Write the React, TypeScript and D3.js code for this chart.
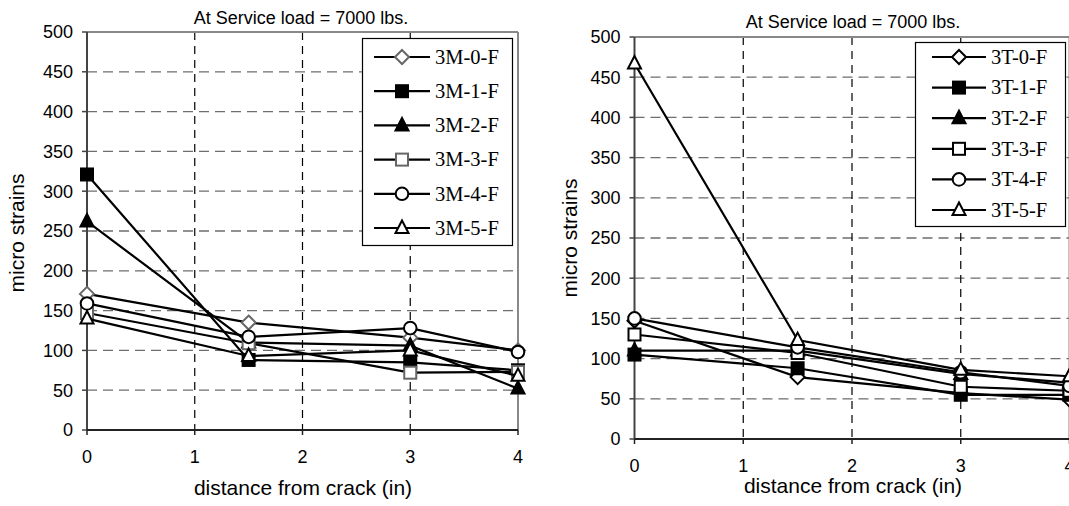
import React from "react";
import * as d3 from "d3";

// ---------- data ----------
const xValues = [0, 1.5, 3, 4];
const xTicks = [0, 1, 2, 3, 4];
const yTicks = [0, 50, 100, 150, 200, 250, 300, 350, 400, 450, 500];
const titleText = "At Service load = 7000 lbs.";
const xTitleText = "distance from crack (in)";
const yTitleText = "micro strains";

const namesM = ["3M-0-F", "3M-1-F", "3M-2-F", "3M-3-F", "3M-4-F", "3M-5-F"];
const m0 = [171, 135, 116, 100];
const m1 = [321, 88, 85, 75];
const m2 = [262, 110, 106, 52];
const m3 = [147, 109, 72, 73];
const m4 = [159, 117, 128, 98];
const m5 = [140, 93, 100, 68];

const namesT = ["3T-0-F", "3T-1-F", "3T-2-F", "3T-3-F", "3T-4-F", "3T-5-F"];
const t0 = [147, 77, 57, 49];
const t1 = [105, 88, 55, 55];
const t2 = [110, 110, 81, 70];
const t3 = [130, 107, 65, 60];
const t4 = [150, 114, 83, 66];
const t5 = [467, 123, 86, 78];

// marker kinds per series index
const markerKinds = ["diamond", "square", "triangle", "square", "circle", "triangle"];
const markerFilled = [false, true, true, false, false, false];

const SANS = "'Liberation Sans', Arial, sans-serif";
const SERIF = "'Liberation Serif', 'Times New Roman', serif";

type Layout = {
  x0: number; x1: number; y0: number; y1: number;
  titleX: number; titleY: number;
  xTitleX: number; xTitleY: number;
  yTitleX: number; yTitleY: number;
  legend: { x: number; y: number; w: number; h: number; firstY: number; step: number; lineX0: number; lineX1: number; markX: number; textX: number };
  markerStroke: string[];
};

function Marker({ kind, filled, cx, cy, stroke }: { kind: string; filled: boolean; cx: number; cy: number; stroke: string }) {
  const fill = filled ? "#000" : "#fff";
  const sw = 2;
  if (kind === "circle") return <circle cx={cx} cy={cy} r={6.3} fill={fill} stroke={stroke} strokeWidth={sw} />;
  if (kind === "square") return <rect x={cx - 6} y={cy - 6} width={12} height={12} fill={fill} stroke={stroke} strokeWidth={sw} />;
  if (kind === "diamond")
    return <path d={`M${cx},${cy - 7}L${cx + 7},${cy}L${cx},${cy + 7}L${cx - 7},${cy}Z`} fill={fill} stroke={stroke} strokeWidth={sw} />;
  return <path d={`M${cx},${cy - 7.5}L${cx + 6.5},${cy + 5}L${cx - 6.5},${cy + 5}Z`} fill={fill} stroke={stroke} strokeWidth={sw} strokeLinejoin="miter" />;
}

function Chart({ layout, names, series }: { layout: Layout; names: string[]; series: number[][] }) {
  const L = layout;
  const x = d3.scaleLinear().domain([0, 4]).range([L.x0, L.x1]);
  const y = d3.scaleLinear().domain([0, 500]).range([L.y0, L.y1]);
  const line = d3.line<number>().x((_, i) => x(xValues[i])).y((v) => y(v));
  const lg = L.legend;
  return (
    <g>
      {/* horizontal grid */}
      {yTicks.filter((t) => t > 0 && t < 500).map((t) => (
        <line key={"h" + t} x1={L.x0} x2={L.x1} y1={y(t)} y2={y(t)} stroke="#6e6e6e" strokeWidth={1.3} strokeDasharray="10,6" />
      ))}
      {/* vertical grid */}
      {xTicks.filter((t) => t > 0 && t < 4).map((t) => (
        <line key={"v" + t} x1={x(t)} x2={x(t)} y1={L.y1} y2={L.y0} stroke="#000" strokeWidth={1.2} strokeDasharray="8,6" />
      ))}
      {/* frame */}
      <line x1={L.x0} x2={L.x1} y1={L.y1} y2={L.y1} stroke="#888" strokeWidth={2} />
      <line x1={L.x1} x2={L.x1} y1={L.y1} y2={L.y0} stroke="#888" strokeWidth={2} />
      <line x1={L.x0} x2={L.x0} y1={L.y1} y2={L.y0} stroke="#444" strokeWidth={2} />
      <line x1={L.x0} x2={L.x1} y1={L.y0} y2={L.y0} stroke="#222" strokeWidth={2} />
      {/* ticks */}
      {yTicks.map((t) => (
        <g key={"yt" + t}>
          <line x1={L.x0 - 5} x2={L.x0} y1={y(t)} y2={y(t)} stroke="#444" strokeWidth={1.5} />
          <text x={L.x0 - 14} y={y(t)} dy="0.36em" textAnchor="end" fontFamily={SANS} fontSize={18} fill="#000">{t}</text>
        </g>
      ))}
      {xTicks.map((t) => (
        <g key={"xt" + t}>
          <line x1={x(t)} x2={x(t)} y1={L.y0} y2={L.y0 + 5} stroke="#222" strokeWidth={1.5} />
          <text x={x(t)} y={L.y0 + 33} textAnchor="middle" fontFamily={SANS} fontSize={18} fill="#000">{t}</text>
        </g>
      ))}
      {/* titles */}
      <text x={L.titleX} y={L.titleY} textAnchor="middle" fontFamily={SANS} fontSize={18} fill="#000">{titleText}</text>
      <text x={L.xTitleX} y={L.xTitleY} textAnchor="middle" fontFamily={SANS} fontSize={21} fill="#000">{xTitleText}</text>
      <text transform={`translate(${L.yTitleX},${L.yTitleY}) rotate(-90)`} textAnchor="middle" fontFamily={SANS} fontSize={21} fill="#000">{yTitleText}</text>
      {/* series */}
      {series.map((vals, si) => (
        <g key={"s" + si}>
          <path d={line(vals) || ""} fill="none" stroke="#000" strokeWidth={2.2} />
          {vals.map((v, i) => (
            <Marker key={i} kind={markerKinds[si]} filled={markerFilled[si]} cx={x(xValues[i])} cy={y(v)} stroke={L.markerStroke[si]} />
          ))}
        </g>
      ))}
      {/* legend */}
      <rect x={lg.x} y={lg.y} width={lg.w} height={lg.h} fill="#fff" stroke="#000" strokeWidth={1.2} />
      {names.map((n, i) => {
        const cy = lg.firstY + i * lg.step;
        return (
          <g key={"lg" + i}>
            <line x1={lg.lineX0} x2={lg.lineX1} y1={cy} y2={cy} stroke="#000" strokeWidth={2.2} />
            <Marker kind={markerKinds[i]} filled={markerFilled[i]} cx={lg.markX} cy={cy} stroke={L.markerStroke[i]} />
            <text x={lg.textX} y={cy} dy="0.33em" fontFamily={SERIF} fontSize={20.5} fill="#000">{n}</text>
          </g>
        );
      })}
    </g>
  );
}

const leftLayout: Layout = {
  x0: 87, x1: 518, y0: 430, y1: 32,
  titleX: 301, titleY: 24,
  xTitleX: 303, xTitleY: 495,
  yTitleX: 24, yTitleY: 233,
  legend: { x: 362.5, y: 38.5, w: 150, h: 207, firstY: 57, step: 34.2, lineX0: 374, lineX1: 430, markX: 402, textX: 435 },
  markerStroke: ["#666", "#000", "#000", "#666", "#000", "#000"],
};

const rightLayout: Layout = {
  x0: 634.5, x1: 1069.5, y0: 439, y1: 37,
  titleX: 853, titleY: 28,
  xTitleX: 853, xTitleY: 493,
  yTitleX: 577, yTitleY: 238,
  legend: { x: 915.5, y: 42.5, w: 150, h: 184, firstY: 57, step: 30.6, lineX0: 932, lineX1: 986, markX: 959, textX: 991 },
  markerStroke: ["#000", "#000", "#000", "#000", "#000", "#000"],
};

export default function App() {
  return (
    <svg width={1069} height={506} style={{ position: "absolute", left: 0, top: 0, background: "#fff" }}>
      <rect width={1069} height={506} fill="#fff" />
      <Chart layout={leftLayout} names={namesM} series={[m0, m1, m2, m3, m4, m5]} />
      <Chart layout={rightLayout} names={namesT} series={[t0, t1, t2, t3, t4, t5]} />
    </svg>
  );
}
